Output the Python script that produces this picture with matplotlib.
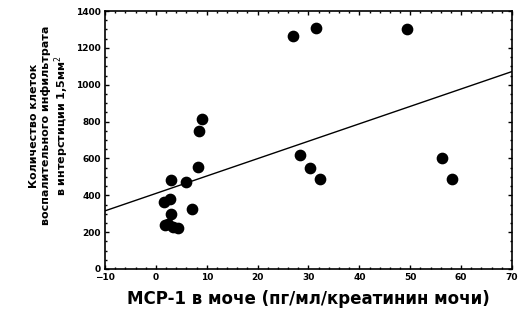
import numpy as np
import matplotlib
matplotlib.use("Agg")
import matplotlib.pyplot as plt
from matplotlib.ticker import MultipleLocator

# Data
mcp1_urine = [1.8, 2.3, 3.0, 3.4, 4.3, 1.6, 2.7, 3.0, 6.0, 7.2,
              8.3, 8.4, 9.1, 27.0, 31.4, 49.3, 28.3, 30.3, 32.3, 56.3, 58.2]
cell_count = [240, 245, 300, 230, 220, 365, 380, 485, 470, 325,
              555, 750, 815, 1265, 1310, 1300, 620, 550, 490, 605, 490]

# regression line
fit_intercept = 410
fit_slope = 9.45
fit_x = [-10, 70]

x_ticks = list(range(-10, 71, 10))
y_ticks = list(range(0, 1401, 200))

fig = plt.figure(figsize=(5.19, 3.22), dpi=100)
ax = fig.add_axes([0.2023, 0.1646, 0.7842, 0.8012])

ax.scatter(mcp1_urine, cell_count, s=55, color="black", zorder=3)
fx = np.array(fit_x)
ax.plot(fx, fit_intercept + fit_slope * fx, color="black", lw=1.0)

ax.set_xlim(-10, 70)
ax.set_ylim(0, 1400)
ax.set_xticks(x_ticks)
ax.set_yticks(y_ticks)
ax.xaxis.set_minor_locator(MultipleLocator(2))
ax.yaxis.set_minor_locator(MultipleLocator(50))
ax.tick_params(which="both", direction="in", top=True, right=True, width=1.0)
ax.tick_params(which="major", length=3, labelsize=6.5, pad=3)
ax.tick_params(which="minor", length=1.5)
for lbl in ax.get_xticklabels() + ax.get_yticklabels():
    lbl.set_fontweight("bold")
for sp in ax.spines.values():
    sp.set_linewidth(1.2)

ax.set_xlabel("MCP-1 в моче (пг/мл/креатинин мочи)", fontsize=12,
              fontweight="bold", labelpad=6)
fig.text(0.097, 0.61,
         "Количество клеток\nвоспалительного инфильтрата\nв интерстиции 1,5мм$^2$",
         rotation=90, ha="center", va="center", fontsize=8,
         fontweight="bold", linespacing=1.15)

fig.savefig("out.png", dpi=100)
